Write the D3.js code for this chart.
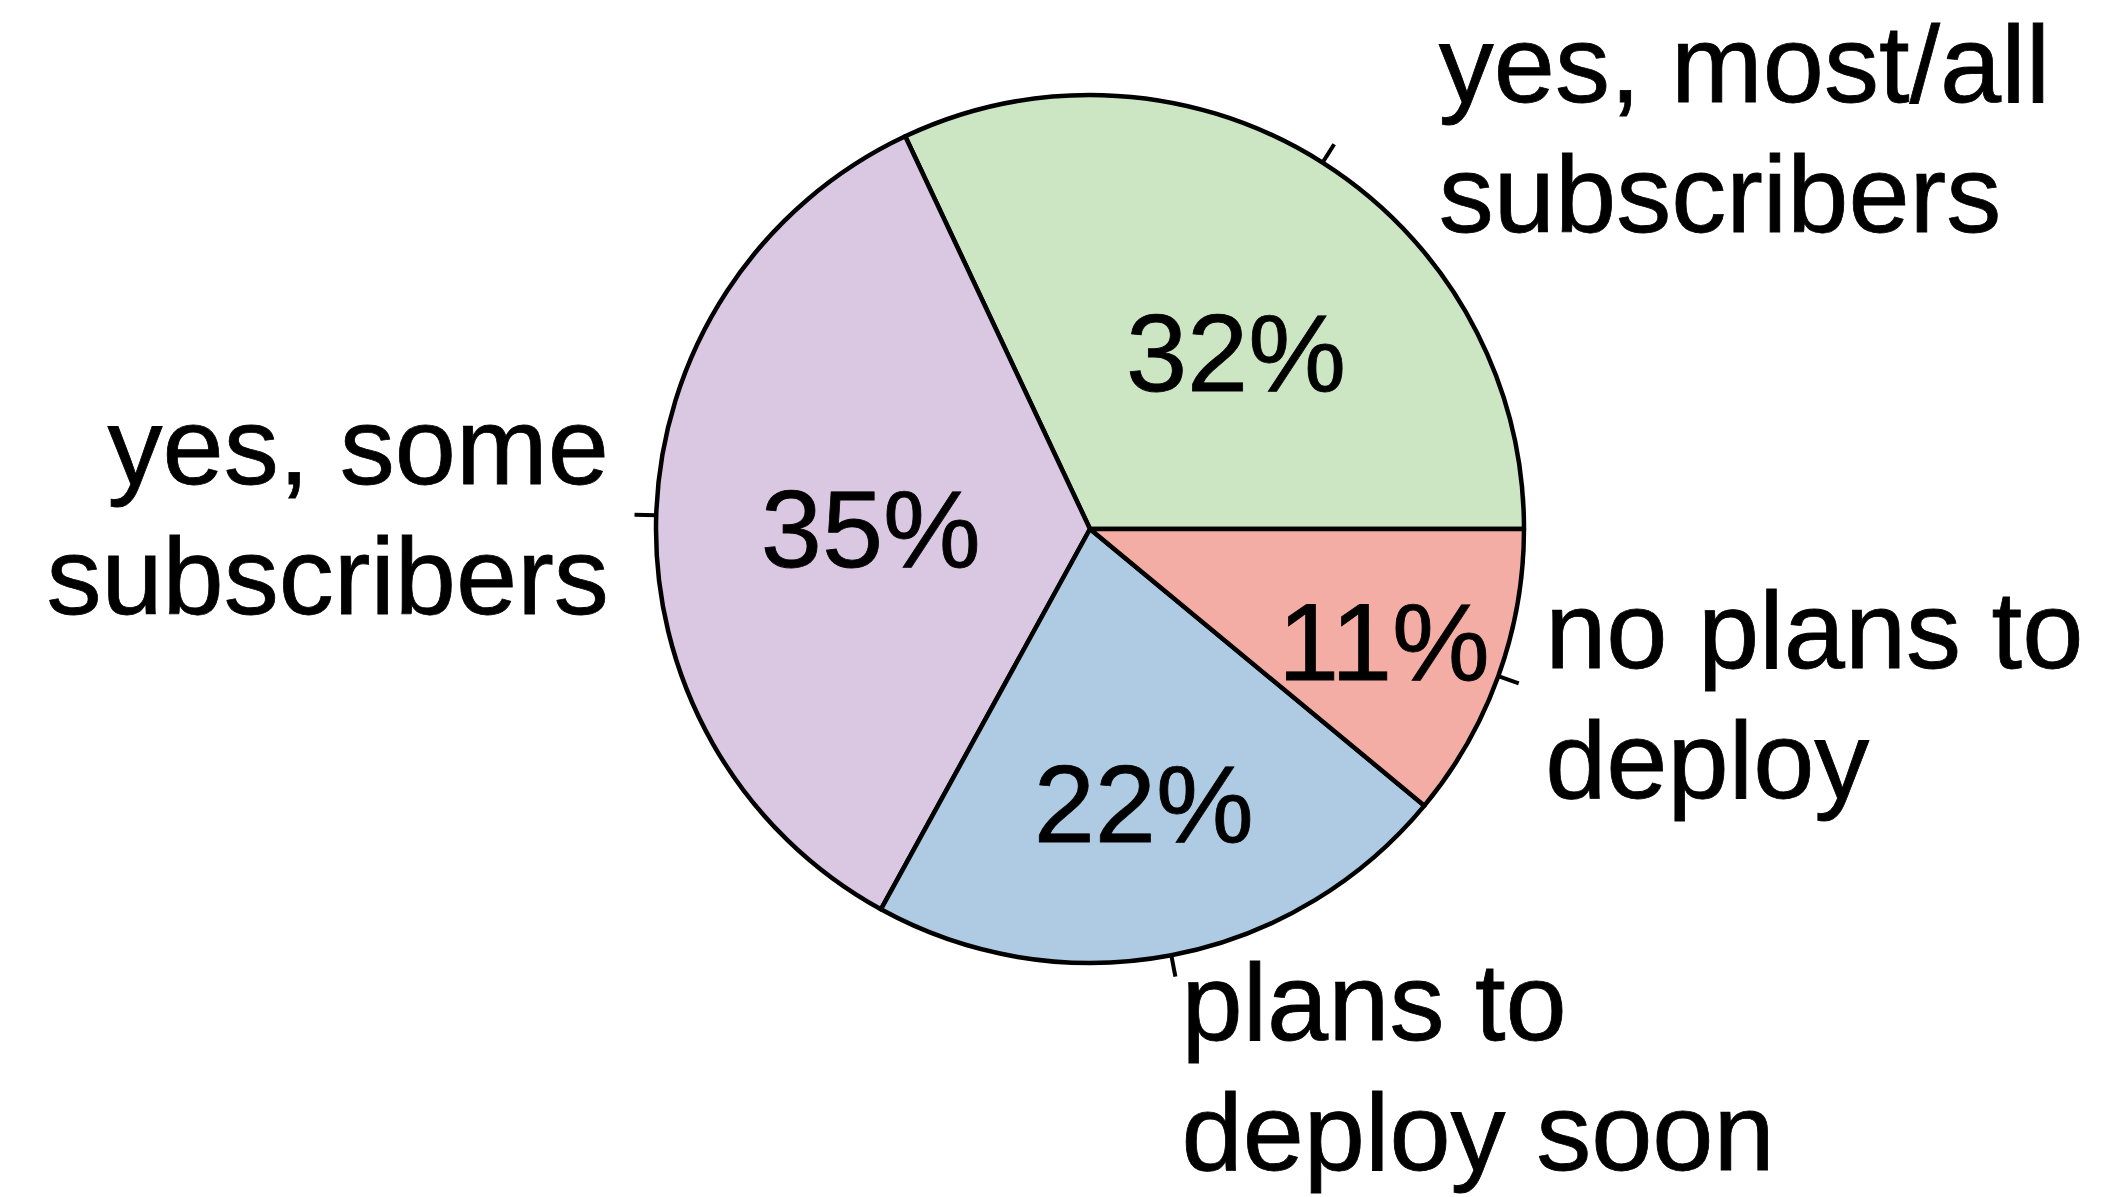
<!DOCTYPE html>
<html>
<head>
<meta charset="utf-8">
<script src="https://cdn.jsdelivr.net/npm/d3@7"></script>
<style>
  body { margin: 0; background: #fff; }
  svg text { font-family: "Liberation Sans", Arial, Helvetica, sans-serif; fill: #000; stroke: #000; stroke-width: 0.8px; }
</style>
</head>
<body>
<div id="chart-area"></div>
<script>
// slice data, counter-clockwise from 3 o'clock like R's pie()
const categories = [["yes, most/all", "subscribers"], ["yes, some", "subscribers"], ["plans to", "deploy soon"], ["no plans to", "deploy"]];
const shares = [32, 35, 22, 11];
const pctLabels = ["32%", "35%", "22%", "11%"];
const colors = ["#cce6c4", "#dac8e3", "#aecbe3", "#f3ada5"];

// label placement tweaks (layout only)
const pctRadius = [0.53, 0.505, 0.643, 0.724];
const pctNudge = [-7, 1.3, 0.3, -0.9]; // degrees
const nameNudge = [[93, 1], [-4, -5], [2, 67], [6, 3]];

let width = 2120, height = 1197;
let cx = 1090, cy = 529, radius = 434;
let fontSize = 110, lineH = 130;

let svg = d3.select("#chart-area")
			.append("svg")
			.attr("width", width)
			.attr("height", height);

let g = svg.append("g")
			.attr("transform", "translate(" + cx + "," + cy + ")");

let pie = d3.pie()
			.sort(null)
			.startAngle(Math.PI / 2)
			.endAngle(Math.PI / 2 - 2 * Math.PI);

let arcs = pie(shares);

let arc = d3.arc()
			.innerRadius(0)
			.outerRadius(radius);

g.append("g")
	.selectAll("path")
	.data(arcs)
	.enter()
	.append("path")
	.attr("d", arc)
	.attr("fill", (d, i) => colors[i])
	.attr("stroke", "#000")
	.attr("stroke-width", 4.5)
	.attr("stroke-linejoin", "round");

let mid = d => (d.startAngle + d.endAngle) / 2;
let px = (a, r) => Math.sin(a) * r;
let py = (a, r) => -Math.cos(a) * r;

// small ticks from rim to 1.05 r
g.append("g")
	.selectAll("line")
	.data(arcs)
	.enter()
	.append("line")
	.attr("x1", d => px(mid(d), radius))
	.attr("y1", d => py(mid(d), radius))
	.attr("x2", d => px(mid(d), radius * 1.05))
	.attr("y2", d => py(mid(d), radius * 1.05))
	.attr("stroke", "#000")
	.attr("stroke-width", 4);

// outer category labels at 1.1 r
let names = g.append("g")
	.selectAll("text")
	.data(arcs)
	.enter()
	.append("text")
	.attr("font-size", fontSize + "px")
	.attr("text-anchor", d => px(mid(d), 1) < 0 ? "end" : "start")
	.attr("transform", (d, i) => {
		let x = px(mid(d), radius * 1.1) + nameNudge[i][0];
		let y = py(mid(d), radius * 1.1) - lineH / 2 + fontSize * 0.36 + nameNudge[i][1];
		return "translate(" + x + "," + y + ")";
	});

names.selectAll("tspan")
	.data((d, i) => categories[i])
	.enter()
	.append("tspan")
	.attr("x", 0)
	.attr("y", (t, j) => j * lineH)
	.text(t => t);

// percentage labels inside slices
g.append("g")
	.selectAll("text")
	.data(arcs)
	.enter()
	.append("text")
	.attr("font-size", fontSize + "px")
	.attr("text-anchor", "middle")
	.attr("x", (d, i) => px(mid(d) - pctNudge[i] * Math.PI / 180, radius * pctRadius[i]))
	.attr("y", (d, i) => py(mid(d) - pctNudge[i] * Math.PI / 180, radius * pctRadius[i]) + fontSize * 0.36)
	.text((d, i) => pctLabels[i]);
</script>
</body>
</html>
